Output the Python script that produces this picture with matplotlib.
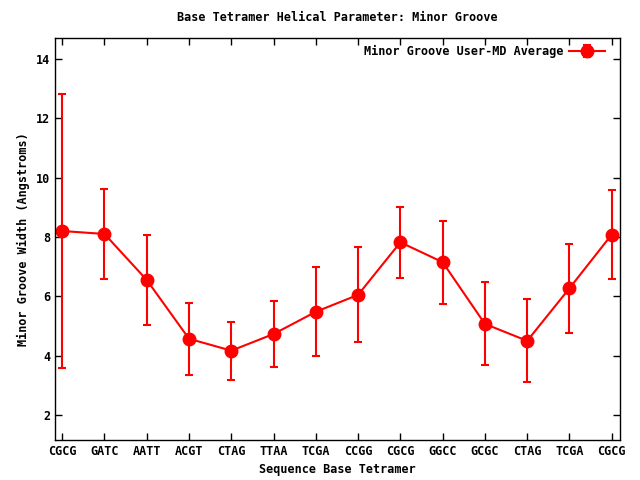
import matplotlib
matplotlib.use('Agg')
import matplotlib.pyplot as plt

# data
tetramers = ['CGCG', 'GATC', 'AATT', 'ACGT', 'CTAG', 'TTAA', 'TCGA',
             'CCGG', 'CGCG', 'GGCC', 'GCGC', 'CTAG', 'TCGA', 'CGCG']
groove_avg = [8.2, 8.1, 6.55, 4.57, 4.17, 4.73, 5.48, 6.05, 7.82, 7.15, 5.07, 4.5, 6.27, 8.08]
groove_std = [4.6, 1.5, 1.5, 1.22, 0.98, 1.1, 1.5, 1.6, 1.2, 1.4, 1.4, 1.4, 1.5, 1.5]

plt.rcParams['font.family'] = 'DejaVu Sans Mono'
plt.rcParams['font.weight'] = 'bold'
plt.rcParams['font.size'] = 8.5

fig = plt.figure(figsize=(6.4, 4.8), dpi=100)
ax = fig.add_axes([0.086, 0.0833, 0.883, 0.8375])

x = list(range(len(tetramers)))
ax.errorbar(x, groove_avg, yerr=groove_std, color='red', lw=1.5,
            marker='o', markersize=9, capsize=3, capthick=1.5, elinewidth=1.5,
            label='Minor Groove User-MD Average')

ax.set_xlim(-0.17, 13.2)
ax.set_ylim(1.16, 14.7)
ax.set_xticks(x)
ax.set_xticklabels(tetramers, fontweight='bold')
ax.set_yticks([2, 4, 6, 8, 10, 12, 14])
ax.tick_params(direction='in', top=True, right=True, length=5, width=1)
for lbl in ax.get_yticklabels():
    lbl.set_fontweight('bold')
for s in ax.spines.values():
    s.set_linewidth(1)

ax.set_title('Base Tetramer Helical Parameter: Minor Groove', fontweight='bold',
             fontsize=8.5, pad=12)
ax.set_xlabel('Sequence Base Tetramer', fontweight='bold')
ax.set_ylabel('Minor Groove Width (Angstroms)', fontweight='bold')

leg = ax.legend(loc='upper right', frameon=False, markerfirst=False,
                handlelength=3, handletextpad=0.5, borderaxespad=0.2,
                bbox_to_anchor=(0.985, 1.0),
                prop={'weight': 'bold', 'size': 8.5})

plt.savefig('out.png', dpi=100)
